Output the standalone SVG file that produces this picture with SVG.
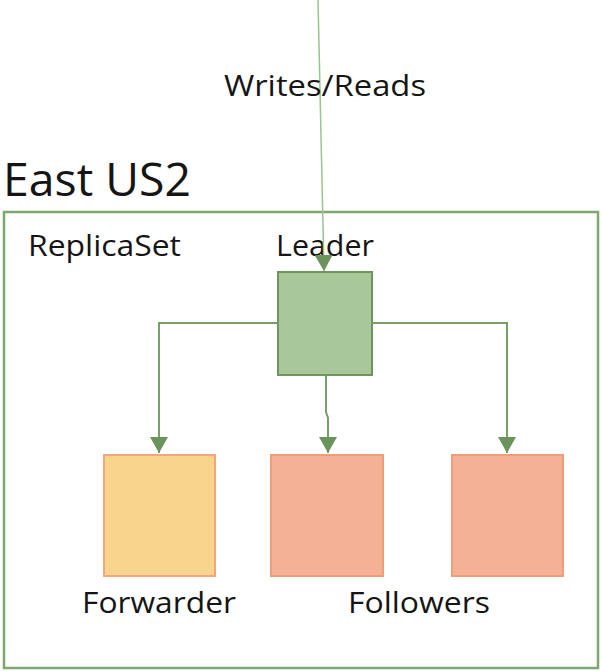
<svg xmlns="http://www.w3.org/2000/svg" width="602" height="671" viewBox="0 0 602 671">
<style>
text{font-family:"Open Sans","Liberation Sans",sans-serif;fill:#151515}
.lbl{font-size:30px}
.conn{fill:none;stroke:#789f69;stroke-width:2}
.in{fill:none;stroke:#9ac48b;stroke-width:1.5}
.leader{fill:#a9c89a;stroke:#6e9460;stroke-width:2}
.fwd{fill:#f9d48d;stroke:#f3a57d;stroke-width:2}
.fol{fill:#f4b195;stroke:#ef9f78;stroke-width:2}
</style>
<defs>
<marker id="ah" markerWidth="16" markerHeight="18" refX="16" refY="9" orient="auto" markerUnits="userSpaceOnUse" viewBox="0 0 16 18">
<path d="M0,0 L16,9 L0,18 Z" fill="#6b935c"/>
</marker>
</defs>
<g id="region">
<rect x="4" y="212" width="594" height="456" fill="none" stroke="#7ea872" stroke-width="2.5"/>
<text x="3" y="196" font-size="46" textLength="188" lengthAdjust="spacingAndGlyphs">East US2</text>
<text class="lbl" x="28" y="256" textLength="153" lengthAdjust="spacingAndGlyphs">ReplicaSet</text>
</g>
<g id="leader">
<rect class="leader" x="278" y="272" width="94" height="103"/>
<text class="lbl" x="276" y="256" textLength="98" lengthAdjust="spacingAndGlyphs">Leader</text>
</g>
<g id="forwarder">
<rect class="fwd" x="104" y="455" width="111" height="121"/>
<text class="lbl" x="82" y="613" textLength="154" lengthAdjust="spacingAndGlyphs">Forwarder</text>
</g>
<g id="follower1">
<rect class="fol" x="271" y="455" width="112" height="121"/>
</g>
<g id="follower2">
<rect class="fol" x="452" y="455" width="111" height="121"/>
</g>
<g id="followers-label">
<text class="lbl" x="348" y="613" textLength="142" lengthAdjust="spacingAndGlyphs">Followers</text>
</g>
<g id="connectors">
<path class="in" d="M318,0 L324,271" marker-end="url(#ah)"/>
<text class="lbl" x="224" y="96" textLength="202" lengthAdjust="spacingAndGlyphs">Writes/Reads</text>
<path class="conn" d="M278,323 L159,323 L159,453" marker-end="url(#ah)"/>
<path class="conn" d="M372,323 L507,323 L507,453" marker-end="url(#ah)"/>
<path class="conn" d="M326,375 L326,412 L328,418 L328,453" marker-end="url(#ah)"/>
</g>
</svg>
